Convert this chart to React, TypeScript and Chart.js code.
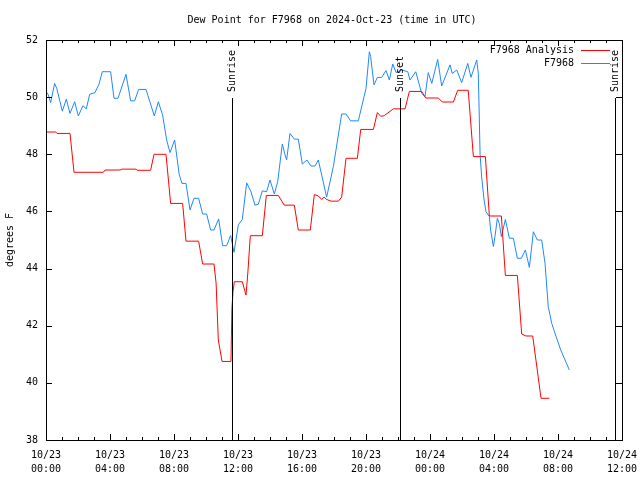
import React, { useEffect, useRef } from "react";
import { Chart, registerables } from "chart.js";

Chart.register(...registerables);

const FONT = "'DejaVu Sans Mono', 'Liberation Mono', monospace";

const chartTitle = "Dew Point for F7968 on 2024-Oct-23 (time in UTC)";
const yAxisTitle = "degrees F";

// x axis: hours since 10/23 00:00 UTC
const xMin = 0;
const xMax = 36;
const xMajorStep = 4;
const xTickDates = ["10/23", "10/23", "10/23", "10/23", "10/23", "10/23", "10/24", "10/24", "10/24", "10/24"];
const xTickTimes = ["00:00", "04:00", "08:00", "12:00", "16:00", "20:00", "00:00", "04:00", "08:00", "12:00"];

const yMin = 38;
const yMax = 52;
const yStep = 2;

const analysisLabel = "F7968 Analysis";
const analysisHours = [
  0, 0.61, 0.69, 1.5, 1.75, 3.58, 3.69, 4.63, 4.75, 5.63, 5.69, 6.54, 6.75, 7.5, 7.79, 8.54,
  8.75, 9.54, 9.79, 10.5, 10.63, 10.77, 11.0, 11.56, 11.62, 11.69, 11.77, 12.27, 12.5, 12.61,
  12.77, 13.52, 13.77, 14.52, 14.89, 15.52, 15.77, 16.52, 16.77, 17.02, 17.23, 17.38, 17.54,
  17.81, 18.27, 18.48, 18.75, 19.46, 19.67, 20.46, 20.71, 20.92, 21.13, 21.71, 22.44, 22.71,
  23.48, 23.73, 24.52, 24.77, 25.46, 25.73, 26.39, 26.71, 27.46, 27.71, 28.46, 28.71, 29.46,
  29.73, 30.0, 30.42, 30.94, 31.46,
];
const analysisValues = [
  48.78, 48.78, 48.73, 48.73, 47.37, 47.37, 47.45, 47.45, 47.48, 47.48, 47.44, 47.44, 48.0, 48.0,
  46.28, 46.28, 44.96, 44.96, 44.16, 44.16, 43.5, 41.5, 40.75, 40.75, 42.6, 43.2, 43.54, 43.54,
  43.07, 43.81, 45.15, 45.15, 46.56, 46.56, 46.22, 46.22, 45.35, 45.35, 46.59, 46.54, 46.42,
  46.5, 46.42, 46.36, 46.36, 46.5, 47.86, 47.86, 48.87, 48.87, 49.46, 49.33, 49.35, 49.59, 49.59,
  50.2, 50.2, 49.97, 49.97, 49.83, 49.83, 50.24, 50.24, 47.92, 47.92, 45.84, 45.84, 43.76, 43.76,
  41.71, 41.64, 41.64, 39.46, 39.46,
];

const stationLabel = "F7968";
const stationHours = [
  0.04, 0.13, 0.29, 0.54, 0.67, 1.02, 1.27, 1.5, 1.79, 2.02, 2.31, 2.52, 2.73, 3.06, 3.31, 3.52,
  4.04, 4.25, 4.5, 5.0, 5.29, 5.54, 5.79, 6.25, 6.77, 7.02, 7.29, 7.54, 7.75, 8.04, 8.33, 8.5,
  8.75, 9.0, 9.25, 9.54, 9.79, 10.04, 10.29, 10.5, 10.79, 11.04, 11.29, 11.54, 11.75, 12.02,
  12.27, 12.54, 12.81, 13.06, 13.27, 13.52, 13.79, 14.0, 14.27, 14.48, 14.77, 14.94, 15.04,
  15.25, 15.52, 15.77, 16.02, 16.31, 16.56, 16.81, 17.02, 17.54, 17.96, 18.48, 18.75, 19.04,
  19.52, 19.88, 20.0, 20.21, 20.29, 20.5, 20.71, 20.98, 21.25, 21.46, 21.67, 21.88, 22.23,
  22.61, 22.75, 23.11, 23.48, 23.69, 23.89, 24.11, 24.48, 24.73, 24.98, 25.25, 25.39, 25.67,
  25.98, 26.36, 26.56, 26.92, 27.02, 27.13, 27.23, 27.38, 27.5, 27.71, 27.79, 27.96, 28.06,
  28.21, 28.33, 28.46, 28.71, 28.96, 29.21, 29.46, 29.71, 29.96, 30.21, 30.46, 30.71, 30.98,
  31.19, 31.39, 31.61, 31.88, 32.17, 32.71,
];
const stationValues = [
  50.17, 50.1, 49.81, 50.48, 50.31, 49.51, 49.93, 49.43, 49.84, 49.34, 49.7, 49.59, 50.1, 50.16,
  50.45, 50.89, 50.89, 49.96, 49.96, 50.8, 49.87, 49.87, 50.27, 50.27, 49.34, 49.84, 49.37, 48.5,
  48.06, 48.5, 47.28, 46.98, 46.98, 46.05, 46.46, 46.46, 45.91, 45.91, 45.35, 45.35, 45.74, 44.8,
  44.8, 45.16, 44.57, 45.53, 45.72, 47.0, 46.69, 46.22, 46.25, 46.72, 46.69, 47.1, 46.61, 47.04,
  48.36, 47.98, 47.8, 48.73, 48.53, 48.53, 47.66, 47.8, 47.59, 47.59, 47.8, 46.5, 47.57, 49.41,
  49.41, 49.17, 49.17, 50.02, 50.31, 51.59, 51.42, 50.43, 50.69, 50.69, 50.93, 50.6, 51.16,
  50.86, 50.95, 50.89, 50.6, 50.89, 50.13, 50.02, 50.86, 50.48, 51.32, 50.39, 50.74, 51.13,
  50.83, 50.95, 50.51, 51.18, 50.69, 51.3, 50.83, 48.0, 47.2, 46.4, 45.99, 45.82, 45.35, 44.77,
  45.12, 45.76, 45.58, 45.12, 45.72, 45.06, 45.06, 44.36, 44.36, 44.65, 44.04, 45.29, 45.0,
  45.0, 44.18, 42.67, 42.08, 41.62, 41.15, 40.45,
];

const sunEventHours = [11.62, 22.13, 35.56];
const sunEventLabels = ["Sunrise", "Sunset", "Sunrise"];

const analysisColor = "#ff0000";
const stationColor = "#1e88ff";

const decorPlugin = {
  id: "decor",
  afterDraw(chart: any) {
    const { ctx, chartArea: a, scales } = chart;
    const xs = scales.x;
    const ys = scales.y;
    const L = Math.round(a.left);
    const R = Math.round(a.right);
    const T = Math.round(a.top);
    const B = Math.round(a.bottom);
    ctx.save();
    ctx.strokeStyle = "#000";
    ctx.fillStyle = "#000";
    ctx.lineWidth = 1;

    // frame
    ctx.strokeRect(L + 0.5, T + 0.5, R - L, B - T);

    // ticks (inward, mirrored)
    ctx.beginPath();
    for (let h = xMin; h <= xMax; h++) {
      const px = Math.round(xs.getPixelForValue(h)) + 0.5;
      const len = h % xMajorStep === 0 ? 6 : 3;
      ctx.moveTo(px, B);
      ctx.lineTo(px, B - len);
      ctx.moveTo(px, T);
      ctx.lineTo(px, T + len);
    }
    for (let v = yMin; v <= yMax; v += yStep) {
      const py = Math.round(ys.getPixelForValue(v)) + 0.5;
      ctx.moveTo(L, py);
      ctx.lineTo(L + 6, py);
      ctx.moveTo(R, py);
      ctx.lineTo(R - 6, py);
    }
    ctx.stroke();

    // sunrise / sunset markers
    ctx.font = `10px ${FONT}`;
    sunEventHours.forEach((h, i) => {
      const px = Math.round(xs.getPixelForValue(h)) + 0.5;
      ctx.beginPath();
      ctx.moveTo(px, T + 58);
      ctx.lineTo(px, B);
      ctx.stroke();
      ctx.save();
      ctx.translate(px, T + 52);
      ctx.rotate(-Math.PI / 2);
      ctx.textAlign = "left";
      ctx.textBaseline = "middle";
      ctx.fillText(sunEventLabels[i], 0, 0);
      ctx.restore();
    });

    // title
    ctx.textAlign = "center";
    ctx.textBaseline = "middle";
    ctx.fillText(chartTitle, (L + R) / 2 - 2, 20);

    // legend
    const entries = [
      { label: analysisLabel, color: analysisColor },
      { label: stationLabel, color: stationColor },
    ];
    entries.forEach((e, i) => {
      const y = T + 10 + i * 13;
      ctx.fillStyle = "#000";
      ctx.textAlign = "right";
      ctx.fillText(e.label, R - 48, y);
      ctx.strokeStyle = e.color;
      ctx.beginPath();
      ctx.moveTo(R - 41, y + 0.5);
      ctx.lineTo(R - 12, y + 0.5);
      ctx.stroke();
    });
    ctx.restore();
  },
};

export default function App() {
  const canvasRef = useRef<HTMLCanvasElement | null>(null);

  useEffect(() => {
    const canvas = canvasRef.current;
    if (!canvas) return;
    const analysisData = analysisHours.map((h, i) => ({ x: h, y: analysisValues[i] }));
    const stationData = stationHours.map((h, i) => ({ x: h, y: stationValues[i] }));

    const chart = new Chart(canvas, {
      type: "line",
      data: {
        datasets: [
          {
            label: analysisLabel,
            data: analysisData,
            borderColor: analysisColor,
            backgroundColor: analysisColor,
            borderWidth: 1,
            pointRadius: 0,
            tension: 0,
          },
          {
            label: stationLabel,
            data: stationData,
            borderColor: stationColor,
            backgroundColor: stationColor,
            borderWidth: 1,
            pointRadius: 0,
            tension: 0,
          },
        ],
      },
      options: {
        responsive: false,
        animation: false,
        events: [],
        layout: { padding: { left: 0, right: 18, top: 40, bottom: 0 } },
        plugins: {
          legend: { display: false },
          title: { display: false },
          tooltip: { enabled: false },
        },
        scales: {
          x: {
            type: "linear",
            min: xMin,
            max: xMax,
            grid: { display: false, drawTicks: false },
            border: { display: false },
            afterFit: (s: any) => {
              s.height = 40;
              s.paddingLeft = 0;
              s.paddingRight = 0;
            },
            ticks: {
              stepSize: xMajorStep,
              autoSkip: false,
              maxRotation: 0,
              minRotation: 0,
              padding: 8,
              color: "#000",
              font: { family: FONT, size: 10, lineHeight: 1.4 },
              callback: (v: any) => {
                const i = Math.round(Number(v) / xMajorStep);
                return [xTickDates[i], xTickTimes[i]];
              },
            },
          },
          y: {
            type: "linear",
            min: yMin,
            max: yMax,
            grid: { display: false, drawTicks: false },
            border: { display: false },
            afterFit: (s: any) => {
              s.width = 46;
              s.paddingTop = 0;
              s.paddingBottom = 0;
            },
            title: {
              display: true,
              text: yAxisTitle,
              color: "#000",
              font: { family: FONT, size: 10 },
              padding: { top: 4, bottom: 0 },
            },
            ticks: {
              stepSize: yStep,
              padding: 8,
              color: "#000",
              font: { family: FONT, size: 10 },
            },
          },
        },
      },
      plugins: [decorPlugin],
    });
    return () => chart.destroy();
  }, []);

  return (
    <div style={{ position: "absolute", left: 0, top: 0, width: 640, height: 480, background: "#fff" }}>
      <canvas ref={canvasRef} width={640} height={480} style={{ display: "block" }} />
    </div>
  );
}
